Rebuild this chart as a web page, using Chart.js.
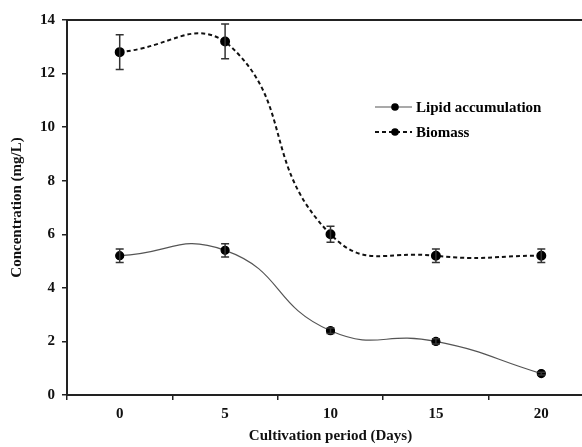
<!DOCTYPE html>
<html>
<head>
<meta charset="utf-8">
<script src="https://cdn.jsdelivr.net/npm/chart.js@4"></script>
<style>
  html, body { margin: 0; padding: 0; background: #fff; overflow: hidden; }
  #wrap { width: 600px; height: 447px; }
</style>
</head>
<body>
<div id="wrap"><canvas id="chart" width="600" height="447"></canvas></div>
<script>
// Lipid / biomass concentration over cultivation time, with error bars.

const days = ["0", "5", "10", "15", "20"];
const lipid = [5.2, 5.4, 2.4, 2.0, 0.8];
const lipidErr = [0.25, 0.25, 0.1, 0.1, 0.05];
const biomass = [12.8, 13.2, 6.0, 5.2, 5.2];
const biomassErr = [0.65, 0.65, 0.3, 0.25, 0.25];
const yTicks = [0, 2, 4, 6, 8, 10, 12, 14];

const FONT = "'Liberation Serif', 'Times New Roman', serif";
const AXIS = "#222";

// Vertical error bars with caps, placed through the chart's own scales.
const errorBars = {
  id: "errorBars",
  afterDatasetsDraw(chart) {
    const ctx = chart.ctx;
    const y = chart.scales.y;
    chart.data.datasets.forEach((ds, i) => {
      const meta = chart.getDatasetMeta(i);
      ctx.save();
      ctx.strokeStyle = "#333";
      ctx.lineWidth = 1.5;
      meta.data.forEach((pt, j) => {
        const v = ds.data[j], e = ds.errors[j];
        const top = y.getPixelForValue(v + e);
        const bot = y.getPixelForValue(v - e);
        ctx.beginPath();
        ctx.moveTo(pt.x, top); ctx.lineTo(pt.x, bot);
        ctx.moveTo(pt.x - 4, top); ctx.lineTo(pt.x + 4, top);
        ctx.moveTo(pt.x - 4, bot); ctx.lineTo(pt.x + 4, bot);
        ctx.stroke();
      });
      ctx.restore();
    });
  },
};

// Legend sitting inside the plot, upper right.
const innerLegend = {
  id: "innerLegend",
  afterDraw(chart) {
    const ctx = chart.ctx;
    const rows = [107, 132];
    chart.data.datasets.forEach((ds, i) => {
      const yy = rows[i];
      ctx.save();
      ctx.strokeStyle = ds.borderColor;
      ctx.lineWidth = ds.borderWidth;
      ctx.setLineDash(ds.borderDash || []);
      ctx.beginPath();
      ctx.moveTo(375, yy); ctx.lineTo(412, yy);
      ctx.stroke();
      ctx.setLineDash([]);
      ctx.fillStyle = "#000";
      ctx.beginPath();
      ctx.arc(395, yy, 3.8, 0, Math.PI * 2);
      ctx.fill();
      ctx.font = "bold 15px " + FONT;
      ctx.textBaseline = "middle";
      ctx.fillText(ds.label, 416, yy + 1);
      ctx.restore();
    });
  },
};

new Chart(document.getElementById("chart"), {
  type: "line",
  data: {
    labels: days,
    datasets: [
      {
        label: "Lipid accumulation",
        data: lipid,
        errors: lipidErr,
        borderColor: "#555",
        borderWidth: 1.2,
        pointRadius: 4,
        pointBackgroundColor: "#000",
        pointBorderColor: "#000",
        tension: 0.5,
        fill: false,
      },
      {
        label: "Biomass",
        data: biomass,
        errors: biomassErr,
        borderColor: "#111",
        borderWidth: 2,
        borderDash: [4, 3],
        pointRadius: 4,
        pointBackgroundColor: "#000",
        pointBorderColor: "#000",
        tension: 0.5,
        fill: false,
      },
    ],
  },
  options: {
    responsive: false,
    animation: false,
    layout: { padding: { left: 0, top: 20, right: 6, bottom: 0 } },
    plugins: { legend: { display: false }, tooltip: { enabled: false } },
    scales: {
      x: {
        type: "category",
        offset: true,
        afterFit: (s) => { s.height = 52; },
        grid: { offset: true, drawOnChartArea: false, tickLength: 5, color: AXIS, lineWidth: 1.5 },
        border: { color: AXIS, width: 2 },
        ticks: { color: "#111", padding: 5, font: { family: FONT, size: 15, weight: "bold" } },
        title: {
          display: true, text: "Cultivation period (Days)", color: "#111",
          padding: { top: 0, bottom: 2 },
          font: { family: FONT, size: 15, weight: "bold" },
        },
      },
      x2: {
        type: "category",
        position: "top",
        labels: days,
        offset: true,
        afterFit: (s) => { s.height = 0; },
        grid: { display: false },
        border: { color: AXIS, width: 2 },
        ticks: { display: false },
      },
      y: {
        min: 0, max: 14,
        afterFit: (s) => { s.width = 67; },
        afterBuildTicks: (s) => { s.ticks = yTicks.map((v) => ({ value: v })); },
        grid: { drawOnChartArea: false, tickLength: 5, color: AXIS, lineWidth: 1.5 },
        border: { color: AXIS, width: 2 },
        ticks: { color: "#111", padding: 7, font: { family: FONT, size: 15, weight: "bold" } },
        title: {
          display: true, text: "Concentration (mg/L)", color: "#111",
          padding: { top: 8, bottom: 0 },
          font: { family: FONT, size: 15, weight: "bold" },
        },
      },
    },
  },
  plugins: [errorBars, innerLegend],
});
</script>
</body>
</html>
